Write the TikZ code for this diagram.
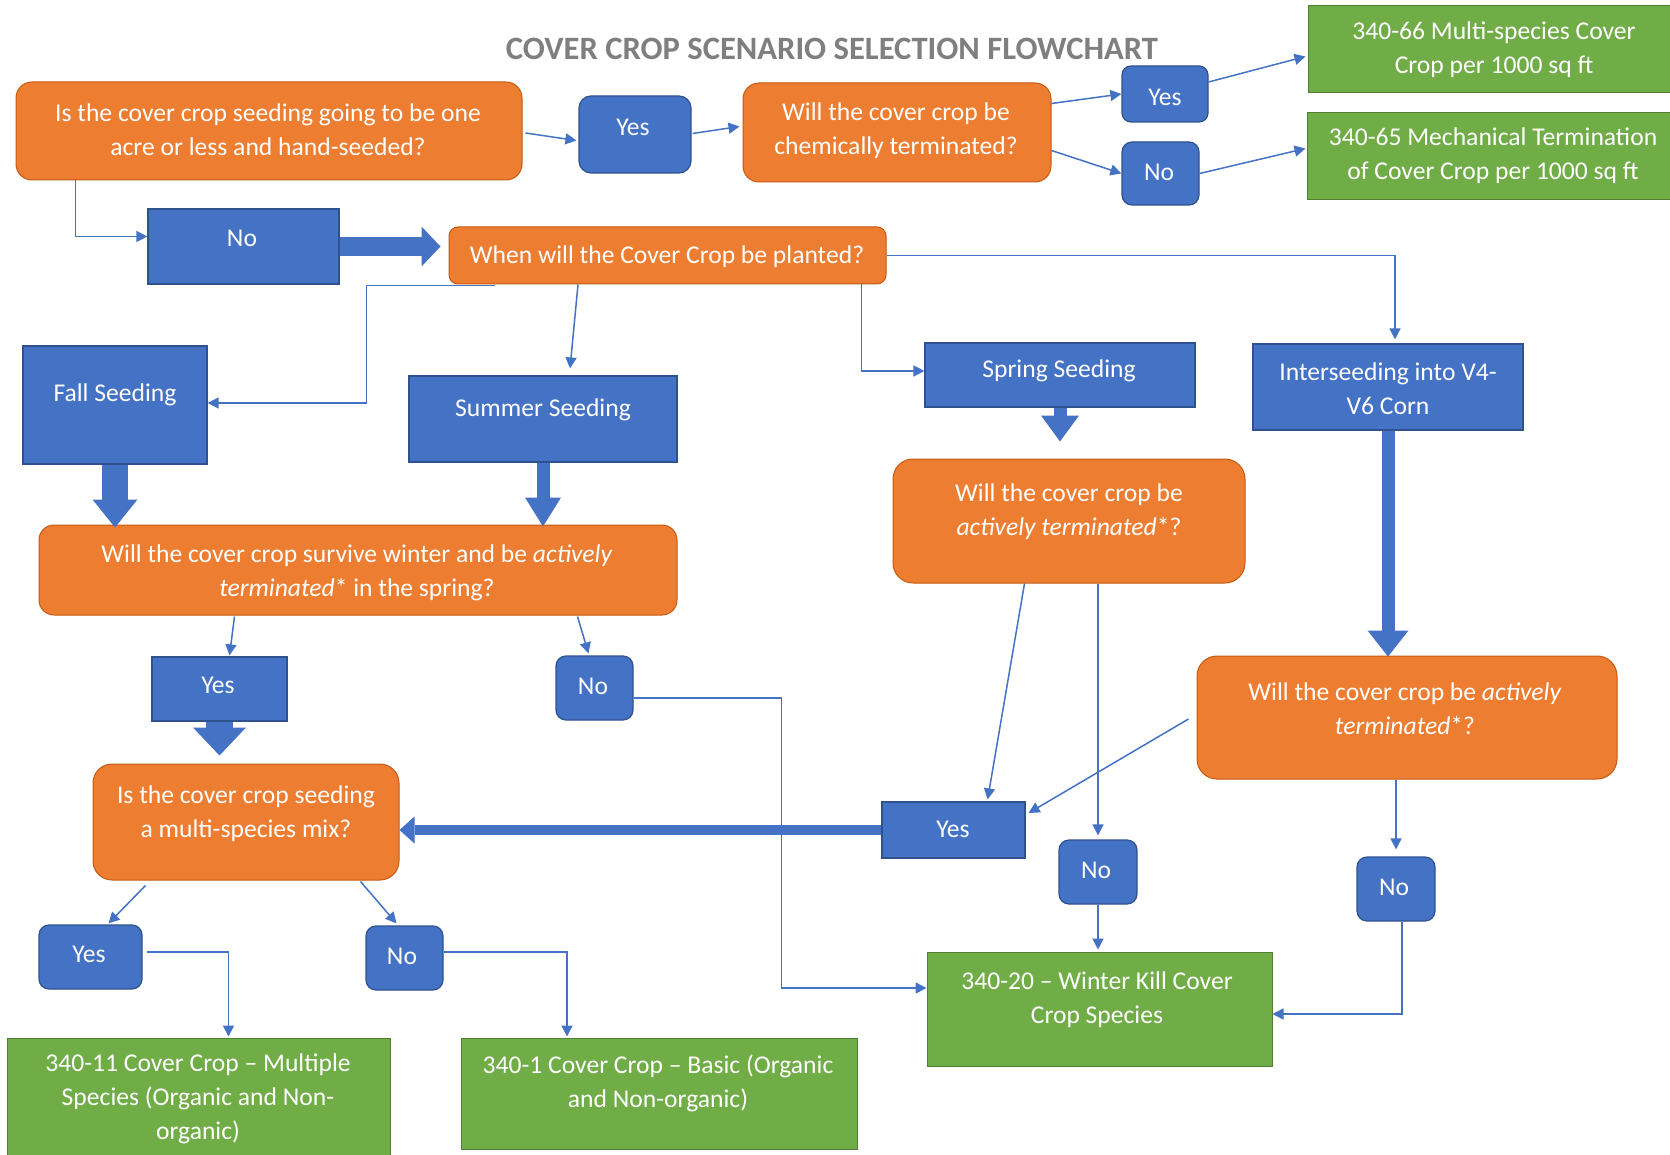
\documentclass[tikz,border=0pt]{standalone}
\usepackage{fontspec}
\setmainfont{Carlito}
\usetikzlibrary{arrows.meta,calc}
\definecolor{corange}{HTML}{ED7D31}
\definecolor{corangeb}{HTML}{C55A11}
\definecolor{cblue}{HTML}{4472C4}
\definecolor{cblueb}{HTML}{2F528F}
\definecolor{cgreen}{HTML}{70AD47}
\definecolor{cgreenb}{HTML}{507E32}
\definecolor{cgray}{HTML}{7F7F7F}
\begin{document}
\begin{tikzpicture}[x=1pt,y=-1pt,
  ob/.style={draw=corangeb, line width=1pt, fill=corange, inner sep=0pt, shape=rectangle},
  bb/.style={draw=cblueb, line width=1.2pt, fill=cblue, inner sep=0pt, shape=rectangle},
  gb/.style={draw=cgreenb, line width=1pt, fill=cgreen, inner sep=0pt, shape=rectangle},
  txt/.style={text=white, align=center, inner sep=0pt, font=\fontsize{25.6}{34}\selectfont},
  con/.style={draw=cblue, line width=1.5pt, -{Triangle[length=11pt,width=11pt]}},
  blk/.style={draw=cblue, line cap=butt}
]
\useasboundingbox[fill=white] (0,0) rectangle (1670,1155);

% title
\node[text=cgray, inner sep=0pt, font=\fontsize{32.6}{38}\selectfont\bfseries] (title) at (832,49) {COVER CROP SCENARIO SELECTION FLOWCHART};

% ---------- shapes ----------
\node[ob, minimum width=506pt, minimum height=98pt, rounded corners=16pt] (q1) at (269,131) {};
\node[bb, minimum width=112pt, minimum height=77pt, rounded corners=12pt] (y1) at (635,134.5) {};
\node[ob, minimum width=308pt, minimum height=99pt, rounded corners=16pt] (q2) at (897,132.5) {};
\node[bb, minimum width=86pt, minimum height=56pt, rounded corners=9pt] (y2) at (1165,94) {};
\node[bb, minimum width=77pt, minimum height=63pt, rounded corners=10pt] (n2) at (1160.5,173.5) {};
\node[gb, minimum width=372pt, minimum height=87pt] (g66) at (1494,49.5) {};
\node[gb, minimum width=373pt, minimum height=87pt] (g65) at (1493.5,156.5) {};
\node[bb, minimum width=191pt, minimum height=75pt] (n1) at (243.5,246.5) {};
\node[ob, minimum width=437pt, minimum height=57pt, rounded corners=9pt] (qw) at (667.5,255.5) {};
\node[bb, minimum width=184pt, minimum height=118pt] (fall) at (115,405) {};
\node[bb, minimum width=268pt, minimum height=86pt] (summer) at (543,419) {};
\node[bb, minimum width=270pt, minimum height=64pt] (spring) at (1060,375) {};
\node[bb, minimum width=270pt, minimum height=86pt] (inter) at (1388,387) {};
\node[ob, minimum width=638pt, minimum height=90pt, rounded corners=15pt] (q3) at (358,570) {};
\node[ob, minimum width=352pt, minimum height=124pt, rounded corners=20pt] (q4) at (1069,521) {};
\node[ob, minimum width=420pt, minimum height=123pt, rounded corners=20pt] (q5) at (1407,717.5) {};
\node[bb, minimum width=135pt, minimum height=64pt] (y3) at (219.5,689) {};
\node[bb, minimum width=77pt, minimum height=64pt, rounded corners=10pt] (n3) at (594.5,688) {};
\node[ob, minimum width=306pt, minimum height=116pt, rounded corners=19pt] (q6) at (246,822) {};
\node[bb, minimum width=143pt, minimum height=56pt] (y4) at (953.5,830) {};
\node[bb, minimum width=78pt, minimum height=64pt, rounded corners=10pt] (n5) at (1098,872) {};
\node[bb, minimum width=78pt, minimum height=64pt, rounded corners=10pt] (n6) at (1396,889) {};
\node[gb, minimum width=345pt, minimum height=114pt] (g20) at (1099.5,1009) {};
\node[bb, minimum width=103pt, minimum height=64pt, rounded corners=10pt] (y5) at (90.5,957) {};
\node[bb, minimum width=77pt, minimum height=64pt, rounded corners=10pt] (n7) at (404.5,958) {};
\node[gb, minimum width=383pt, minimum height=127pt] (g11) at (198.5,1101.5) {};
\node[gb, minimum width=396pt, minimum height=111pt] (g1) at (659,1093.5) {};

% ---------- texts ----------
\node[txt] (q1t) at (268,130) {Is the cover crop seeding going to be one\\acre or less and hand-seeded?};
\node[txt] (y1t) at (633,127) {Yes};
\node[txt] (q2t) at (896,130.5) {Will the cover crop be\\chemically terminated?};
\node[txt] (y2t) at (1165,97) {Yes};
\node[txt] (n2t) at (1159,172) {No};
\node[txt] (g66t) at (1494,49.5) {340-66 Multi-species Cover\\Crop per 1000 sq ft};
\node[txt] (g65t) at (1493,155.5) {340-65 Mechanical Termination\\of Cover Crop per 1000 sq ft};
\node[txt] (n1t) at (242,238) {No};
\node[txt] (qwt) at (667,257) {When will the Cover Crop be planted?};
\node[txt] (fallt) at (115,395) {Fall Seeding};
\node[txt] (summert) at (543,410) {Summer Seeding};
\node[txt] (springt) at (1059,371) {Spring Seeding};
\node[txt] (intert) at (1388,389) {Interseeding into V4-\\V6 Corn};
\node[txt] (q3t) at (357,573) {Will the cover crop survive winter and be \textit{actively}\\\textit{terminated}* in the spring?};
\node[txt] (q4t) at (1069,511.5) {Will the cover crop be\\\textit{actively terminated}*?};
\node[txt] (q5t) at (1405,709) {Will the cover crop be \textit{actively}\\\textit{terminated}*?};
\node[txt] (y3t) at (218,685) {Yes};
\node[txt] (n3t) at (593,686) {No};
\node[txt] (q6t) at (246,814) {Is the cover crop seeding\\a multi-species mix?};
\node[txt] (y4t) at (953,829) {Yes};
\node[txt] (n5t) at (1096,870) {No};
\node[txt] (n6t) at (1394,887) {No};
\node[txt] (g20t) at (1097,999.5) {340-20 – Winter Kill Cover\\Crop Species};
\node[txt] (y5t) at (89,954) {Yes};
\node[txt] (n7t) at (402,956) {No};
\node[txt] (g11t) at (198,1099) {340-11 Cover Crop – Multiple\\Species (Organic and Non-\\organic)};
\node[txt] (g1t) at (658,1083.5) {340-1 Cover Crop – Basic (Organic\\and Non-organic)};

% ---------- block arrows ----------
\draw[blk, line width=19pt, -{Triangle[length=19pt,width=40pt,line width=0pt]}] (n1.east) -- ($(n1.east -| qw.west)+(-8,0)$);
\draw[blk, line width=26pt, -{Triangle[length=28pt,width=45pt,line width=0pt]}] (fall.south) -- ($(fall.south |- q3.north)+(0,3)$);
\draw[blk, line width=13pt, -{Triangle[length=29pt,width=36pt,line width=0pt]}] (summer.south) -- ($(summer.south |- q3.north)+(0,2)$);
\draw[blk, line width=13pt, -{Triangle[length=26pt,width=38pt,line width=0pt]}] (spring.south) -- ($(spring.south |- q4.north)+(0,-17)$);
\draw[blk, line width=13pt, -{Triangle[length=26pt,width=41pt,line width=0pt]}] (inter.south) -- ($(inter.south |- q5.north)+(0,1)$);
\draw[blk, line width=27pt, -{Triangle[length=28pt,width=53pt,line width=0pt]}] (y3.south) -- ($(y3.south |- q6.north)+(0,-8)$);
\draw[blk, line width=10pt, -{Triangle[length=15pt,width=27pt,line width=0pt]}] (y4.west) -- (y4.west -| q6.east);

% ---------- thin connectors ----------
\draw[con] ($(q1.east)+(3,2)$) -- ($(y1.west)+(-2,6)$);
\draw[con] ($(y1.east)+(1,-1)$) -- ($(q2.west)+(-3,-6)$);
\draw[con] ($(q2.north east)+(0,21)$) -- (y2.west);
\draw[con] ($(q2.east)+(0,18)$) -- (n2.west);
\draw[con] ($(y2.east)+(0,-12)$) -- ($(g66.west)+(-2,7)$);
\draw[con] (n2.east) -- ($(g65.west)+(-1,-8)$);
\draw[con] ($(q1.south west)+(60,0)$) |- ($(n1.west)+(0,-10)$);
\draw[con] (qw.east) -| ($(inter.north)+(7,-4)$);
\draw[con] ($(qw.south east)+(-25,0)$) |- ($(spring.west)+(0,-4)$);
\draw[con] ($(qw.south)+(-89.5,0)$) -- ($(summer.north)+(27,-7)$);
\draw[con] ($(qw.south west)+(46,1)$) -- ++(-128,0) |- ($(fall.east)+(0,-2)$);
\draw[con] ($(q3.south west)+(196,1)$) -- ($(y3.north)+(10,-1)$);
\draw[con] ($(q3.south east)+(-100,1)$) -- ($(n3.north)+(-6,-2)$);
\draw[con] ($(n3.east)+(0,10)$) -- ++(148,0) |- ($(g20.west)+(0,-21)$);
\draw[con] ($(q4.south west)+(132,0)$) -- ($(y4.north east)+(-38,-2)$);
\draw[con] ($(q5.west)+(-8,1.5)$) -- ($(y4.east)+(3,-17)$);
\draw[con] (n5.north |- q4.south) -- ($(n5.north)+(0,-4)$);
\draw[con] (n5.south) -- ($(n5.south |- g20.north)+(0,-2)$);
\draw[con] (n6.north |- q5.south) -- ($(n6.north)+(0,-7)$);
\draw[con] ($(n6.south)+(6,0)$) |- ($(g20.east)+(0,5)$);
\draw[con] ($(q6.south west)+(53,5)$) -- ($(y5.north)+(18,-1)$);
\draw[con] ($(q6.south east)+(-39,1)$) -- ($(n7.north)+(-8,-2)$);
\draw[con] ($(y5.east)+(4,-5)$) -| ($(g11.north)+(30,-1)$);
\draw[con] ($(n7.east)+(0,-6)$) -| ($(g1.north)+(-92,-1)$);
\end{tikzpicture}
\end{document}
